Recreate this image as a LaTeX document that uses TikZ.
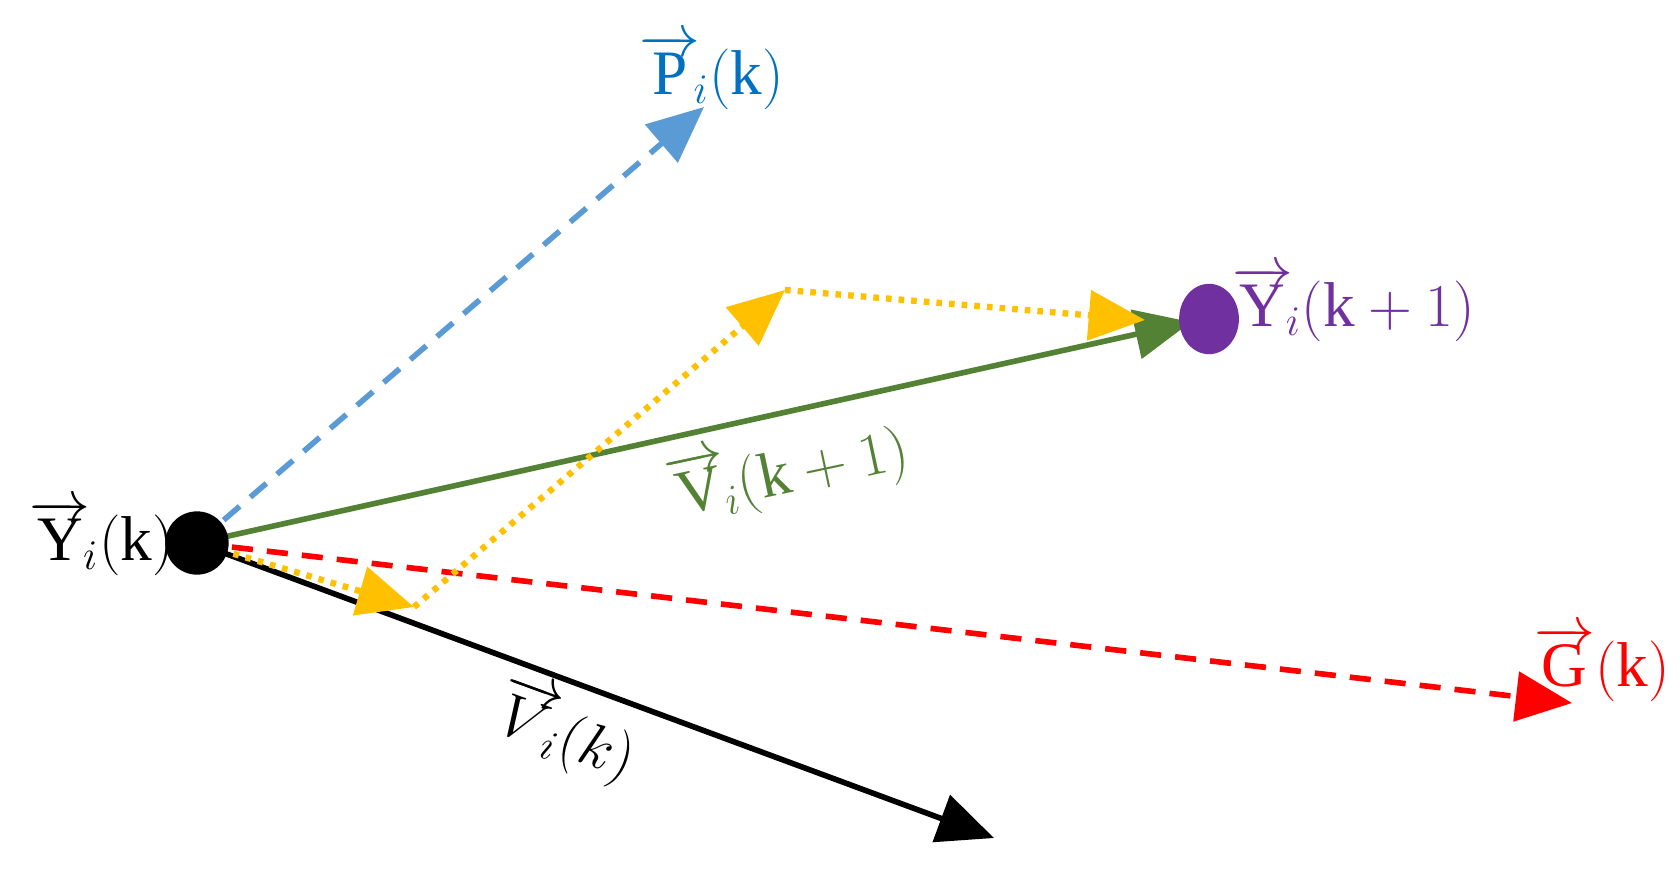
\documentclass[tikz,border=0pt]{standalone}
\usepackage{fontspec}
\setmainfont{Liberation Serif}
\usetikzlibrary{arrows.meta,shapes.geometric}
\definecolor{cblue}{HTML}{5B9BD5}
\definecolor{clblue}{HTML}{0070C0}
\definecolor{cgreen}{HTML}{548235}
\definecolor{cyel}{HTML}{FFC000}
\definecolor{cpur}{HTML}{7030A0}
\definecolor{cred}{HTML}{FF0000}
\begin{document}
\begin{tikzpicture}[x=0.01cm,y=-0.01cm,
  vec/.style={line width=1.6pt,-{Triangle[length=16pt,width=14pt]}},
  lab/.style={font=\fontsize{18}{22}\selectfont, inner sep=1pt}]
\useasboundingbox (0,0) rectangle (1680,873);
\coordinate (Y) at (197,543);
\coordinate (P) at (704,107);
\coordinate (G) at (1572,703);
\coordinate (V) at (994,838);
\coordinate (VG) at (1191,322);
\coordinate (a) at (414,607);
\coordinate (b) at (785,290);
\coordinate (c) at (1145,320);
\draw[vec,cblue,dash pattern=on 6pt off 4pt] (Y) -- (P);
\draw[vec,cred,dash pattern=on 6pt off 4pt] (Y) -- (G);
\draw[vec,black] (Y) -- (V);
\draw[vec,cgreen] (Y) -- (VG);
\draw[vec,cyel,dotted,line width=1.8pt] (Y) -- (a);
\draw[vec,cyel,dotted,line width=1.8pt] (a) -- (b);
\draw[vec,cyel,dotted,line width=1.8pt] (b) -- (c);
\node[circle,fill=black,minimum size=18pt,inner sep=0] (dotY) at (Y) {};
\node[ellipse,fill=cpur,minimum width=17pt,minimum height=20pt,inner sep=0] (dotY1) at (1209,319) {};
\node[lab,anchor=east] (lY) at (178,538) {$\overrightarrow{\mathrm{Y}}_{\!i}(\mathrm{k})$};
\node[lab,text=clblue] (lP) at (712,72) {$\overrightarrow{\mathrm{P}}_{\!i}(\mathrm{k})$};
\node[lab,text=cpur,anchor=west] (lY1) at (1228,304) {$\overrightarrow{\mathrm{Y}}_{\!i}(\mathrm{k}+1)$};
\node[lab,text=cgreen,rotate=12] (lV1) at (788,470) {$\overrightarrow{\mathrm{V}}_{\!i}(\mathrm{k}+1)$};
\node[lab,rotate=-20] (lV) at (566,733) {$\overrightarrow{V}_{\!i}(k)$};
\node[lab,text=cred] (lG) at (1602,664) {$\overrightarrow{\mathrm{G}}(\mathrm{k})$};
\end{tikzpicture}
\end{document}
